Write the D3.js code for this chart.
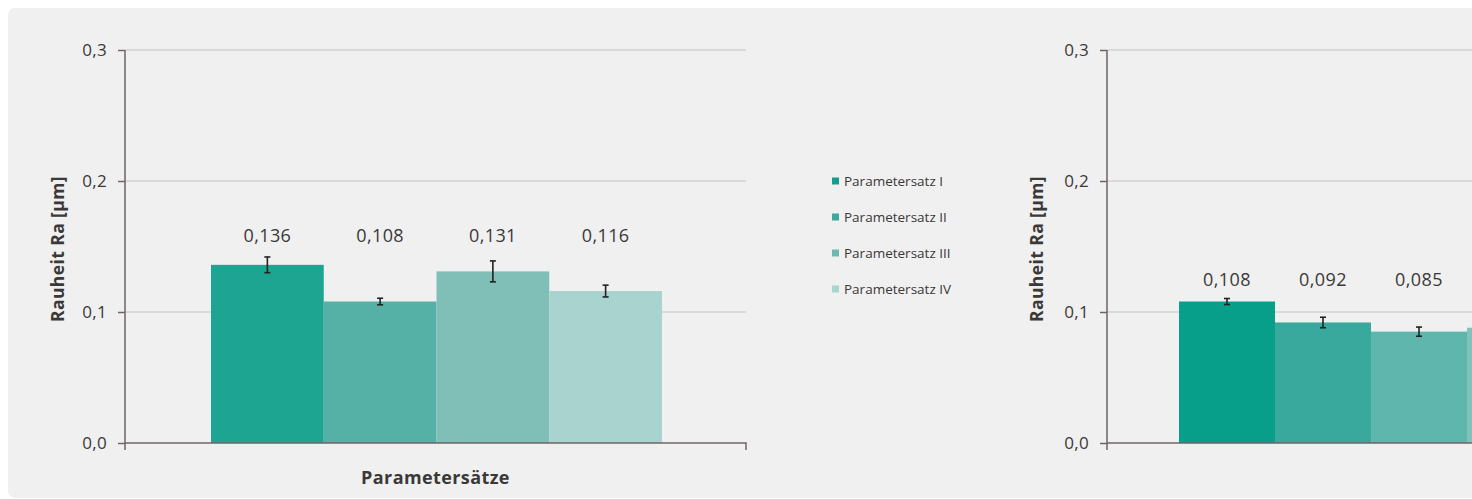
<!DOCTYPE html>
<html>
<head>
<meta charset="utf-8">
<script src="https://cdn.jsdelivr.net/npm/d3@7"></script>
<style>
  html, body { margin: 0; padding: 0; background: #ffffff; }
  svg { display: block; }
</style>
</head>
<body>
<svg id="chart" width="1472" height="499"></svg>
<script>
// Parameter sets shown in both panels
const sets = ["Parametersatz I", "Parametersatz II", "Parametersatz III", "Parametersatz IV"];

// Left panel: mean roughness Ra [µm] and standard deviation
const leftValues = [0.136, 0.108, 0.131, 0.116];
const leftErrors = [0.006, 0.0025, 0.008, 0.0045];

// Right panel: mean roughness Ra [µm] and standard deviation
const rightValues = [0.108, 0.092, 0.085, 0.088];
const rightErrors = [0.0023, 0.004, 0.0035, 0.003];

// Axis ticks
const yTicks = [0, 0.1, 0.2, 0.3];

const yTitle = "Rauheit Ra [µm]";
const xTitle = "Parametersätze";

const leftColors = ["#1da592", "#55b0a6", "#80bfb8", "#a9d3cf"];
const rightColors = ["#079e8a", "#38a99c", "#5fb6ac", "#80c3bb"];
const legendColors = ["#139e8b", "#3ca99c", "#6bbab1", "#a8d5d0"];

const fmt = v => d3.format(".3f")(v).replace(".", ",");
const fmtTick = v => d3.format(".1f")(v).replace(".", ",");

const svg = d3.select("#chart");
const W = 1472, H = 499;

// grey panel background
svg.append("rect")
  .attr("x", 8).attr("y", 8)
  .attr("width", W + 20).attr("height", 490)
  .attr("rx", 7)
  .attr("fill", "#f0f0f0");

const textColor = "#3b3838";
const axisColor = "#6e6565";
const gridColor = "#c4c2c2";
const font = "'Open Sans', sans-serif";

function drawPanel(opt) {
  const y = d3.scaleLinear().domain([0, 0.3]).range([443, 50]);
  const x = d3.scaleBand().domain(sets).range([opt.barStart, opt.barEnd]).padding(0);
  const g = svg.append("g");

  // horizontal gridlines
  g.selectAll("line.grid").data(yTicks.filter(t => t > 0)).join("line")
    .attr("x1", opt.axisStart).attr("x2", opt.axisEnd)
    .attr("y1", d => y(d)).attr("y2", d => y(d))
    .attr("stroke", gridColor).attr("stroke-width", 1.2);

  // bars
  g.selectAll("rect.bar").data(opt.values).join("rect")
    .attr("x", (d, i) => x(sets[i]))
    .attr("width", x.bandwidth())
    .attr("y", d => y(d))
    .attr("height", d => y(0) - y(d))
    .attr("fill", (d, i) => opt.colors[i]);

  // error bars
  const eb = g.selectAll("g.err").data(opt.values).join("g")
    .attr("transform", (d, i) => `translate(${x(sets[i]) + x.bandwidth() / 2},0)`);
  eb.append("line")
    .attr("y1", (d, i) => y(d + opt.errors[i]))
    .attr("y2", (d, i) => y(d - opt.errors[i]))
    .attr("stroke", "#222").attr("stroke-width", 1.6);
  eb.append("line").attr("x1", -3).attr("x2", 3)
    .attr("y1", (d, i) => y(d + opt.errors[i])).attr("y2", (d, i) => y(d + opt.errors[i]))
    .attr("stroke", "#222").attr("stroke-width", 1.6);
  eb.append("line").attr("x1", -3).attr("x2", 3)
    .attr("y1", (d, i) => y(d - opt.errors[i])).attr("y2", (d, i) => y(d - opt.errors[i]))
    .attr("stroke", "#222").attr("stroke-width", 1.6);

  // value labels (only those that fall inside the drawing area)
  const labelled = opt.values
    .map((v, i) => ({ v, cx: x(sets[i]) + x.bandwidth() / 2 }))
    .filter(d => d.cx + 30 < W);
  g.selectAll("text.val").data(labelled).join("text")
    .attr("x", d => d.cx)
    .attr("y", y(d3.max(opt.values)) - opt.labelGap)
    .attr("text-anchor", "middle")
    .attr("dominant-baseline", "central")
    .attr("font-family", font)
    .attr("font-size", 18)
    .attr("letter-spacing", 0.4)
    .attr("fill", textColor)
    .text(d => fmt(d.v));

  // y axis
  const yAxis = g.append("g")
    .attr("transform", `translate(${opt.axisStart},0)`)
    .call(d3.axisLeft(y).tickValues(yTicks).tickFormat(fmtTick).tickSize(7).tickPadding(11));
  yAxis.select(".domain").attr("stroke", axisColor).attr("stroke-width", 1.5)
    .attr("d", `M0,${y(0.3)}V${y(0) + 7}`);
  yAxis.selectAll(".tick line").attr("stroke", axisColor).attr("stroke-width", 1.5);
  yAxis.selectAll(".tick text")
    .attr("font-family", font)
    .attr("font-size", 17)
    .attr("letter-spacing", 0.3)
    .attr("fill", textColor);

  // x axis baseline with end tick
  g.append("path")
    .attr("d", `M${opt.axisStart},${y(0)}H${opt.axisEnd}V${y(0) + 7}`)
    .attr("fill", "none")
    .attr("stroke", axisColor).attr("stroke-width", 1.5);

  // y title
  g.append("text")
    .attr("transform", `translate(${opt.yTitleX},${249}) rotate(-90)`)
    .attr("text-anchor", "middle")
    .attr("dominant-baseline", "central")
    .attr("font-family", font)
    .attr("font-weight", "bold")
    .attr("font-size", 17.5)
    .attr("letter-spacing", 0.4)
    .attr("fill", textColor)
    .text(yTitle);

  if (opt.showXTitle) {
    g.append("text")
      .attr("x", (opt.axisStart + opt.axisEnd) / 2)
      .attr("y", 477)
      .attr("text-anchor", "middle")
      .attr("dominant-baseline", "central")
      .attr("font-family", font)
      .attr("font-weight", "bold")
      .attr("font-size", 18)
      .attr("letter-spacing", 0.4)
      .attr("fill", textColor)
      .text(xTitle);
  }
}

drawPanel({
  values: leftValues, errors: leftErrors, colors: leftColors,
  axisStart: 125, axisEnd: 746, barStart: 211, barEnd: 662,
  yTitleX: 57, labelGap: 30, showXTitle: true
});

drawPanel({
  values: rightValues, errors: rightErrors, colors: rightColors,
  axisStart: 1107, axisEnd: 1635, barStart: 1179, barEnd: 1563,
  yTitleX: 1036, labelGap: 23, showXTitle: false
});

// legend
const legend = svg.append("g").attr("transform", "translate(832,181)");
const item = legend.selectAll("g").data(sets).join("g")
  .attr("transform", (d, i) => `translate(0,${i * 36})`);
item.append("rect")
  .attr("x", 0).attr("y", -3.5).attr("width", 7).attr("height", 7)
  .attr("fill", (d, i) => legendColors[i]);
item.append("text")
  .attr("x", 12).attr("y", 0)
  .attr("dominant-baseline", "central")
  .attr("font-family", "'Liberation Sans Narrow', 'Open Sans', sans-serif")
  .attr("font-size", 13.5)
  .attr("fill", textColor)
  .text(d => d);
</script>
</body>
</html>
